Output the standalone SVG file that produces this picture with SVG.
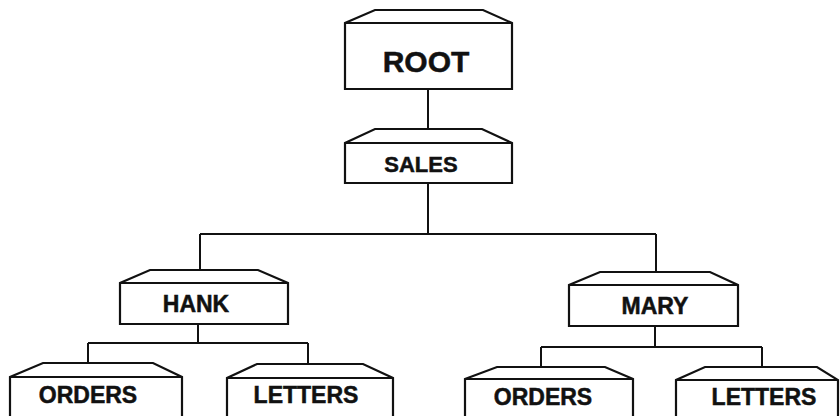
<svg xmlns="http://www.w3.org/2000/svg" width="840" height="416" viewBox="0 0 840 416">
<style>
.box{fill:#fff;stroke:#111;stroke-width:2.2;stroke-linejoin:miter}
.edge{fill:none;stroke:#111;stroke-width:2}
.lbl{font-family:"Liberation Sans",Arial,sans-serif;font-weight:bold;font-size:23px;fill:#111;stroke:#111;stroke-width:0.5;text-anchor:middle}
</style>
<rect width="840" height="416" fill="#fff"/>
<g id="connectors">
<path class="edge" d="M428,89V129"/>
<path class="edge" d="M428,183V234M200,234H656M200,234V270M656,234V272"/>
<path class="edge" d="M198,324V343M88,343H308M88,343V363M308,343V364"/>
<path class="edge" d="M655,326V347M541,347H762M541,347V367M762,347V367"/>
</g>
<g id="root">
<path class="box" d="M345,89V23L375,10H483L512,23V89Z M345,23H512"/>
<text class="lbl" x="426" y="72" style="font-size:30px">ROOT</text>
</g>
<g id="sales">
<path class="box" d="M345,183V143L375,129H482L512,143V183Z M345,143H512"/>
<text class="lbl" x="421" y="172" style="font-size:22px">SALES</text>
</g>
<g id="hank">
<path class="box" d="M120,324V283L150,270H258L288,283V324Z M120,283H288"/>
<text class="lbl" x="196" y="312">HANK</text>
</g>
<g id="mary">
<path class="box" d="M569,326V285L600,272H710L738,285V326Z M569,285H738"/>
<text class="lbl" x="655" y="314">MARY</text>
</g>
<g id="hank-orders">
<path class="box" d="M10,422V377L43,363H153L182,377V422Z M10,377H182"/>
<text class="lbl" x="88" y="403">ORDERS</text>
</g>
<g id="hank-letters">
<path class="box" d="M227,422V378L257,364H363L393,378V422Z M227,378H393"/>
<text class="lbl" x="306" y="403">LETTERS</text>
</g>
<g id="mary-orders">
<path class="box" d="M465,422V379L497,367H605L633,379V422Z M465,379H633"/>
<text class="lbl" x="543" y="405">ORDERS</text>
</g>
<g id="mary-letters">
<path class="box" d="M676,422V380L705,367H817L838,380V422Z M676,380H838"/>
<text class="lbl" x="764" y="405">LETTERS</text>
</g>
</svg>
